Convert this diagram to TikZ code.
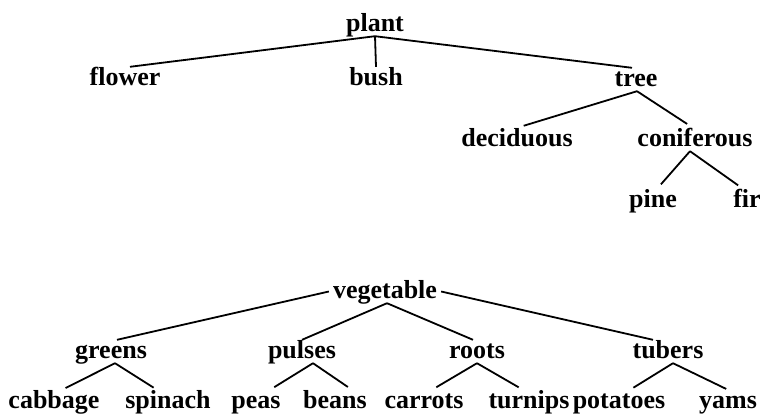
\documentclass[tikz,border=0pt]{standalone}
\usepackage{fontspec}
\setmainfont{Liberation Serif}
\usepackage{tikz}

\tikzset{
    word/.style={anchor=base, inner sep=0pt, text height=18bp, text depth=5bp,
        font=\fontsize{26bp}{30bp}\selectfont\bfseries},
    branch/.style={line width=1.8bp}
}

\begin{document}
\begin{tikzpicture}[x=1bp,y=-1bp]
    \useasboundingbox (0,0) rectangle (763,418);
    % first tree
    \node[word] (plant) at (375,31) {plant};
    \node[word] (flower) at (125,85) {flower};
    \node[word] (bush) at (376,85) {bush};
    \node[word] (tree) at (636,86) {tree};
    \node[word] (deciduous) at (517,146) {deciduous};
    \node[word] (coniferous) at (695,146) {coniferous};
    \node[word] (pine) at (653,207) {pine};
    \node[word] (fir) at (747,207) {fir};
    \draw[branch] (plant.south) -- ([xshift=5bp]flower.north);
    \draw[branch] (plant.south) -- (bush.north);
    \draw[branch] (plant.south) -- ([xshift=-4bp]tree.north);
    \draw[branch,shorten >=7bp] ([xshift=1bp]tree.south) -- (deciduous.north);
    \draw[branch,shorten >=7bp] ([xshift=1bp]tree.south) -- ([xshift=-2bp]coniferous.north);
    \draw[branch,shorten >=6bp] ([xshift=-5bp]coniferous.south) -- ([xshift=4bp]pine.north);
    \draw[branch,shorten >=6bp] ([xshift=-5bp]coniferous.south) -- ([xshift=-4bp]fir.north);
    % second tree
    \node[word] (vegetable) at (385,298) {vegetable};
    \node[word] (greens) at (111,358) {greens};
    \node[word] (pulses) at (302,358) {pulses};
    \node[word] (roots) at (477,358) {roots};
    \node[word] (tubers) at (668,358) {tubers};
    \node[word] (cabbage) at (54,408) {cabbage};
    \node[word] (spinach) at (168,408) {spinach};
    \node[word] (peas) at (256,408) {peas};
    \node[word] (beans) at (335,408) {beans};
    \node[word] (carrots) at (424,408) {carrots};
    \node[word] (turnips) at (529,408) {turnips};
    \node[word] (potatoes) at (619,408) {potatoes};
    \node[word] (yams) at (728,408) {yams};
    \draw[branch] ([xshift=-4bp]vegetable.west) -- ([xshift=6bp]greens.north);
    \draw[branch] ([xshift=2bp]vegetable.south) -- (pulses.north);
    \draw[branch] ([xshift=2bp]vegetable.south) -- ([xshift=-4bp]roots.north);
    \draw[branch] ([xshift=4bp]vegetable.east) -- ([xshift=-15bp]tubers.north);
    \draw[branch,shorten >=4bp] ([xshift=4bp]greens.south) -- ([xshift=8bp]cabbage.north);
    \draw[branch,shorten >=4bp] ([xshift=4bp]greens.south) -- ([xshift=-11bp]spinach.north);
    \draw[branch,shorten >=5bp] ([xshift=11bp]pulses.south) -- ([xshift=14bp]peas.north);
    \draw[branch,shorten >=5bp] ([xshift=11bp]pulses.south) -- ([xshift=17bp]beans.north);
    \draw[branch,shorten >=5bp] (roots.south) -- ([xshift=8bp]carrots.north);
    \draw[branch,shorten >=5bp] (roots.south) -- ([xshift=-6bp]turnips.north);
    \draw[branch,shorten >=4bp] ([xshift=5bp]tubers.south) -- ([xshift=11bp]potatoes.north);
    \draw[branch,shorten >=2bp] ([xshift=5bp]tubers.south) -- (yams.north);
\end{tikzpicture}
\end{document}
